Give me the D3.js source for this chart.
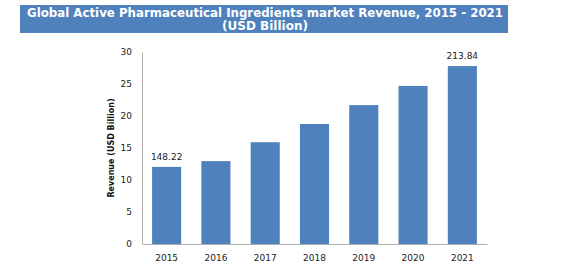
<!DOCTYPE html>
<html>
<head>
<meta charset="utf-8">
<script src="https://cdn.jsdelivr.net/npm/d3@7"></script>
<style>
  body { margin: 0; background: #fff; }
  text { font-family: "DejaVu Sans", Verdana, sans-serif; }
</style>
</head>
<body>
<div id="chart"></div>
<script>
// Chart data
const years = ["2015", "2016", "2017", "2018", "2019", "2020", "2021"];
const revenue = [12.05, 12.95, 15.9, 18.75, 21.7, 24.7, 27.8];
const barLabels = ["148.22", "", "", "", "", "", "213.84"];
const yTicks = [0, 5, 10, 15, 20, 25, 30];

const width = 568;
const height = 269;
const margin = { top: 52, right: 81, bottom: 25, left: 142 };

const svg = d3.select("#chart")
  .append("svg")
  .attr("width", width)
  .attr("height", height);

// Title banner
svg.append("rect")
  .attr("x", 20)
  .attr("y", 5)
  .attr("width", 488)
  .attr("height", 28)
  .attr("fill", "#4f81bd");

svg.append("text")
  .attr("x", 265)
  .attr("y", 17)
  .attr("text-anchor", "middle")
  .attr("fill", "#fff")
  .attr("font-size", 12)
  .attr("font-weight", "bold")
  .attr("textLength", 476)
  .attr("lengthAdjust", "spacingAndGlyphs")
  .text("Global Active Pharmaceutical Ingredients market Revenue, 2015 - 2021");

svg.append("text")
  .attr("x", 265)
  .attr("y", 30)
  .attr("text-anchor", "middle")
  .attr("fill", "#fff")
  .attr("font-size", 12)
  .attr("font-weight", "bold")
  .text("(USD Billion)");

// Scales
const x = d3.scaleBand()
  .domain(years)
  .range([margin.left, width - margin.right])
  .paddingInner(0.41)
  .paddingOuter(0.205);

const y = d3.scaleLinear()
  .domain([0, 30])
  .range([height - margin.bottom, margin.top]);

// Axes
const yAxis = svg.append("g")
  .attr("transform", `translate(${margin.left},0)`)
  .call(d3.axisLeft(y).tickValues(yTicks).tickSize(0).tickPadding(10));

const xAxis = svg.append("g")
  .attr("transform", `translate(0,${height - margin.bottom})`)
  .call(d3.axisBottom(x).tickSize(0).tickPadding(11));

[yAxis, xAxis].forEach(a => {
  a.select(".domain").attr("stroke", "#b0b0b0");
  a.selectAll("text")
    .attr("font-family", "'DejaVu Sans', Verdana, sans-serif")
    .attr("font-size", 9)
    .attr("fill", "#222");
});

// Bars
svg.selectAll(".bar")
  .data(years)
  .enter().append("rect")
  .attr("class", "bar")
  .attr("x", d => x(d))
  .attr("y", (d, i) => y(revenue[i]))
  .attr("width", x.bandwidth())
  .attr("height", (d, i) => y(0) - y(revenue[i]))
  .attr("fill", "#4f81bd");

// Value labels
svg.selectAll(".label")
  .data(years)
  .enter().append("text")
  .attr("class", "label")
  .attr("x", d => x(d) + x.bandwidth() / 2)
  .attr("y", (d, i) => y(revenue[i]) - 7)
  .attr("text-anchor", "middle")
  .attr("font-size", 9)
  .attr("fill", "#222")
  .text((d, i) => barLabels[i]);

// Y axis title
svg.append("text")
  .attr("transform", "rotate(-90)")
  .attr("x", -((height - margin.bottom + margin.top) / 2))
  .attr("y", 114)
  .attr("text-anchor", "middle")
  .attr("font-size", 8)
  .attr("font-weight", "bold")
  .attr("fill", "#111")
  .text("Revenue (USD Billion)");
</script>
</body>
</html>
